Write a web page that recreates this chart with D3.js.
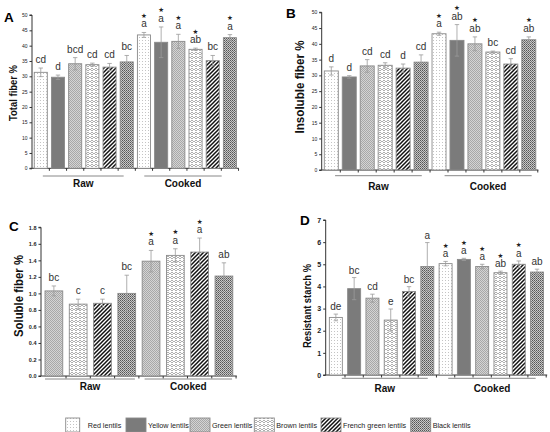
<!DOCTYPE html>
<html><head><meta charset="utf-8">
<script src="https://cdn.jsdelivr.net/npm/d3@7"></script>
<style>body{margin:0;background:#fff}svg{display:block;font-family:"Liberation Sans",Arial,sans-serif}</style>
</head><body>
<script>
// ---------- data ----------
const lentils = ["Red lentils","Yellow lentils","Green lentils","Brown lentils","French green lentils","Black lentils"];
const groups = ["Raw","Cooked"];

const totalFiberRaw = [31.3, 29.7, 34.1, 33.8, 33.0, 34.7];
const totalFiberRawErr = [1.4, 0.7, 2.0, 0.5, 1.2, 2.1];
const totalFiberCooked = [43.5, 41.1, 41.4, 38.8, 35.1, 42.6];
const totalFiberCookedErr = [0.8, 5.0, 2.3, 0.4, 1.7, 1.0];
const totalFiberLetters = ["cd","d","bcd","cd","cd","bc","a","a","a","ab","bc","a"];
const totalFiberStars = [0,0,0,0,0,0,1,1,1,1,0,1];

const insolubleRaw = [31.4, 29.5, 33.0, 33.2, 32.3, 34.2];
const insolubleRawErr = [1.3, 0.4, 2.0, 0.8, 1.3, 2.3];
const insolubleCooked = [43.2, 41.1, 40.0, 37.4, 33.6, 41.3];
const insolubleCookedErr = [0.5, 5.0, 2.2, 0.3, 1.7, 0.9];
const insolubleLetters = ["d","d","cd","cd","d","cd","a","ab","ab","bc","cd","ab"];
const insolubleStars = [0,0,0,0,0,0,1,1,1,0,0,1];

const solubleLentils = ["Green lentils","Brown lentils","French green lentils","Black lentils"];
const solubleRaw = [1.03, 0.87, 0.88, 1.00];
const solubleRawErr = [0.06, 0.06, 0.05, 0.22];
const solubleCooked = [1.39, 1.46, 1.50, 1.21];
const solubleCookedErr = [0.13, 0.08, 0.17, 0.16];
const solubleLetters = ["bc","c","c","bc","a","a","a","ab"];
const solubleStars = [0,0,0,0,1,1,1,0];

const starchRaw = [2.60, 3.90, 3.47, 2.48, 3.77, 4.90];
const starchRawErr = [0.15, 0.50, 0.18, 0.50, 0.22, 1.08];
const starchCooked = [5.03, 5.22, 4.90, 4.62, 5.00, 4.65];
const starchCookedErr = [0.10, 0.05, 0.10, 0.07, 0.15, 0.13];
const starchLetters = ["de","bc","cd","e","bc","a","a","a","a","ab","a","ab"];
const starchStars = [0,0,0,0,0,0,1,1,1,1,1,0];

const ticksA = d3.range(0, 51, 5);
const ticksC = [0,0.2,0.4,0.6,0.8,1.0,1.2,1.4,1.6,1.8];
const ticksD = d3.range(0, 8, 1);

// ---------- build ----------
const svg = d3.select("body").append("svg").attr("width",550).attr("height",432);
const defs = svg.append("defs");
const patId = {"Red lentils":"pRed","Yellow lentils":"pYel","Green lentils":"pGrn","Brown lentils":"pBrn","French green lentils":"pFr","Black lentils":"pBlk"};

function pat(id, w, h, draw){
  const p = defs.append("pattern").attr("id",id).attr("patternUnits","userSpaceOnUse").attr("width",w).attr("height",h);
  draw(p);
}
pat("pRed",3,3,p=>{p.append("rect").attr("width",3).attr("height",3).attr("fill","#fff");
  p.append("rect").attr("x",1).attr("y",1).attr("width",1).attr("height",1).attr("fill","#c4c4c4");});
pat("pYel",4,4,p=>{p.append("rect").attr("width",4).attr("height",4).attr("fill","#7b7b7b");});
pat("pGrn",2,2,p=>{p.append("rect").attr("width",2).attr("height",2).attr("fill","#d4d4d4");
  p.append("path").attr("d","M0,0L2,2M-1,1L1,3M1,-1L3,1").attr("stroke","#8a8a8a").attr("stroke-width",0.6);});
pat("pBrn",4,4,p=>{p.append("rect").attr("width",4).attr("height",4).attr("fill","#fff");
  p.append("path").attr("d","M0,3L2,1L4,3M0,1L1,0M3,0L4,1").attr("fill","none").attr("stroke","#8c8c8c").attr("stroke-width",0.7);});
pat("pFr",4,4,p=>{p.append("rect").attr("width",4).attr("height",4).attr("fill","#fff");
  p.append("path").attr("d","M-1,5L5,-1M-1,1L1,-1M3,5L5,3").attr("stroke","#111").attr("stroke-width",1.5);});
pat("pBlk",2,2,p=>{p.append("rect").attr("width",2).attr("height",2).attr("fill","#c8c8c8");
  p.append("rect").attr("width",1).attr("height",1).attr("fill","#555");
  p.append("rect").attr("x",1).attr("y",1).attr("width",1).attr("height",1).attr("fill","#777");});

function panel(cfg){
  const g = svg.append("g");
  const n = cfg.lentils.length*2;
  const x = d3.scaleBand().domain(d3.range(n)).range([cfg.x0, cfg.x1]).paddingInner(cfg.pi).paddingOuter(cfg.po);
  const y = d3.scaleLinear().domain([0, cfg.max]).range([cfg.y0, cfg.yTop]);
  const vals = cfg.raw.concat(cfg.cooked);
  const errs = cfg.rawErr.concat(cfg.cookedErr);
  const types = cfg.lentils.concat(cfg.lentils);
  const rows = vals.map((v,i)=>({i, v, e:errs[i], t:types[i], l:cfg.letters[i], s:cfg.stars[i]}));

  // y axis
  const ya = d3.axisLeft(y).tickValues(cfg.ticks).tickSize(2.5).tickPadding(2).tickFormat(cfg.fmt);
  const yg = g.append("g").attr("transform",`translate(${cfg.x0},0)`).call(ya);
  yg.select(".domain").attr("stroke","#333").attr("d",`M-2.5,${cfg.y0}H0V${cfg.yTop}H-2.5`);
  yg.selectAll(".tick line").attr("stroke","#333");
  yg.selectAll(".tick text").attr("font-size",cfg.tickFont).attr("font-weight",cfg.tickBold?"bold":"normal").attr("fill","#222");
  // x axis baseline with ticks at band boundaries
  g.append("line").attr("x1",cfg.x0).attr("x2",cfg.x1).attr("y1",cfg.y0).attr("y2",cfg.y0).attr("stroke","#333");
  d3.range(1,n+1).forEach(k=>{
    const bx = x(k-1)+x.bandwidth()+ (x.step()-x.bandwidth())/2;
    g.append("line").attr("x1",bx).attr("x2",bx).attr("y1",cfg.y0).attr("y2",cfg.y0+2.5).attr("stroke","#333");
  });

  // bars
  g.selectAll("rect.bar").data(rows).join("rect").attr("class","bar")
    .attr("x",d=>x(d.i)).attr("width",x.bandwidth())
    .attr("y",d=>y(d.v)).attr("height",d=>cfg.y0-y(d.v))
    .attr("fill",d=>`url(#${patId[d.t]})`).attr("stroke","#8a8a8a").attr("stroke-width",0.9);
  // error bars
  const cap = 2.2;
  rows.forEach(d=>{
    const cx = x(d.i)+x.bandwidth()/2;
    g.append("path").attr("d",`M${cx},${y(d.v-d.e)}V${y(d.v+d.e)}M${cx-cap},${y(d.v+d.e)}H${cx+cap}M${cx-cap},${y(d.v-d.e)}H${cx+cap}`)
      .attr("stroke","#9a9a9a").attr("stroke-width",0.8).attr("fill","none");
    const ly = y(d.v+d.e)-cfg.letterGap;
    g.append("text").attr("x",cx).attr("y",ly).attr("text-anchor","middle").attr("font-size",cfg.letterFont).attr("fill","#333").text(d.l);
    if(d.s) g.append("text").attr("x",cx).attr("y",ly-cfg.letterFont*0.95).attr("text-anchor","middle").attr("font-size",6.5).attr("font-family","DejaVu Sans").attr("fill","#222").text("\u2605");
  });

  // group lines and labels
  const ix = t=>x(0)+t*x.step();
  cfg.spans.forEach((s,k)=>{
    g.append("line").attr("x1",ix(s[0])).attr("x2",ix(s[1])).attr("y1",cfg.gy).attr("y2",cfg.gy).attr("stroke","#888").attr("stroke-width",1);
    g.append("text").attr("x",(ix(s[0])+ix(s[1]))/2).attr("y",cfg.gly).attr("text-anchor","middle").attr("font-size",10).attr("font-weight","bold").attr("fill","#111").text(groups[k]);
  });

  // y label
  g.append("text").attr("transform",`translate(${cfg.labX},${cfg.labY}) rotate(-90)`).attr("text-anchor","middle")
    .attr("font-size",cfg.labFont).attr("font-weight","bold").attr("fill","#111")
    .attr("textLength",cfg.labLen).attr("lengthAdjust","spacingAndGlyphs").text(cfg.label);
  // panel letter
  g.append("text").attr("x",cfg.pX).attr("y",cfg.pY).attr("font-size",13.5).attr("font-weight","bold").attr("fill","#000").text(cfg.panel);
}

const f0 = d3.format("d"), f1 = d3.format(".1f");
panel({panel:"A",pX:4,pY:22,label:"Total fiber %",labX:17,labY:93,labFont:11.5,labLen:56,
  lentils, raw:totalFiberRaw, rawErr:totalFiberRawErr, cooked:totalFiberCooked, cookedErr:totalFiberCookedErr,
  letters:totalFiberLetters, stars:totalFiberStars, max:50, ticks:ticksA, fmt:f0, tickFont:5, tickBold:false,
  x0:32, x1:238.7, pi:0.24, po:0.13, y0:168.3, yTop:15, letterGap:5, letterFont:10,
  spans:[[0.5,5.2],[6.4,10.9]], gy:176, gly:187});
panel({panel:"B",pX:286,pY:18,label:"Insoluble fiber %",labX:304,labY:87,labFont:12,labLen:93,
  lentils, raw:insolubleRaw, rawErr:insolubleRawErr, cooked:insolubleCooked, cookedErr:insolubleCookedErr,
  letters:insolubleLetters, stars:insolubleStars, max:50, ticks:ticksA, fmt:f0, tickFont:5, tickBold:false,
  x0:321.7, x1:538.4, pi:0.22, po:0.145, y0:170, yTop:12.3, letterGap:5, letterFont:10,
  spans:[[0.6,5.43],[6.7,11.55]], gy:175.7, gly:189.5});
panel({panel:"C",pX:9,pY:231,label:"Soluble fiber %",labX:23,labY:296,labFont:12,labLen:82,
  lentils:solubleLentils, raw:solubleRaw, rawErr:solubleRawErr, cooked:solubleCooked, cookedErr:solubleCookedErr,
  letters:solubleLetters, stars:solubleStars, max:1.8, ticks:ticksC, fmt:f1, tickFont:5.5, tickBold:true,
  x0:41, x1:236.8, pi:0.27, po:0.165, y0:376, yTop:227.3, letterGap:5, letterFont:10,
  spans:[[0,3.7],[4.1,7.7]], gy:379, gly:390});
panel({panel:"D",pX:300,pY:225,label:"Resistant starch %",labX:311,labY:306,labFont:11,labLen:84,
  lentils, raw:starchRaw, rawErr:starchRawErr, cooked:starchCooked, cookedErr:starchCookedErr,
  letters:starchLetters, stars:starchStars, max:7, ticks:ticksD, fmt:f0, tickFont:7, tickBold:true,
  x0:325.7, x1:547.2, pi:0.29, po:0.2, y0:375, yTop:220, letterGap:4, letterFont:10,
  spans:[[0.68,5.38],[6.5,11.28]], gy:378.3, gly:391.5});

// legend
const legX = [65.7, 126, 190, 254.3, 321, 410.7];
const leg = svg.append("g");
lentils.forEach((l,i)=>{
  leg.append("rect").attr("x",legX[i]).attr("y",418).attr("width",i===0?14:20).attr("height",14)
    .attr("fill",`url(#${patId[l]})`).attr("stroke","#8a8a8a").attr("stroke-width",0.9);
  leg.append("text").attr("x",legX[i]+22).attr("y",428).attr("font-size",7.2).attr("fill","#222").text(l);
});
</script>
</body></html>
